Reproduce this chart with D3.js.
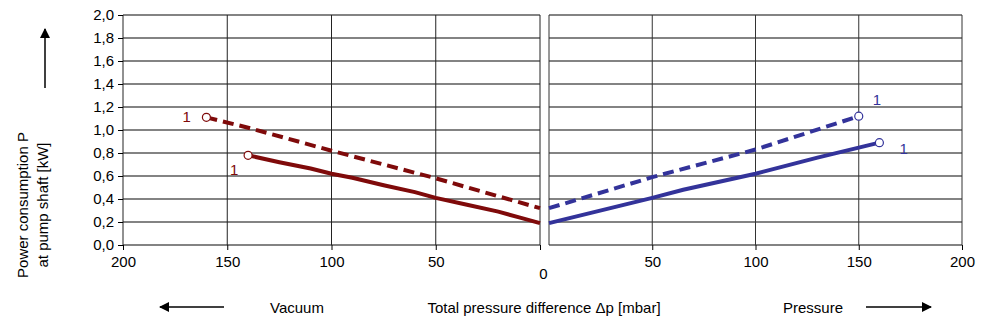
<!DOCTYPE html>
<html>
<head>
<meta charset="utf-8">
<script src="https://cdn.jsdelivr.net/npm/d3@7"></script>
<style>
  body { margin: 0; background: #fff; }
  text { font-family: "Liberation Sans", Arial, sans-serif; }
</style>
</head>
<body>
<div id="graph"></div>
<script>
// data (kW vs mbar)
const yTicks = [0, 0.2, 0.4, 0.6, 0.8, 1.0, 1.2, 1.4, 1.6, 1.8, 2.0];
const vacTicks = [200, 150, 100, 50];
const presTicks = [50, 100, 150, 200];

// vacuum side (dark red)
const vacSolid = [[140, 0.78], [125, 0.72], [110, 0.665], [100, 0.62], [90, 0.585], [75, 0.52], [60, 0.46], [50, 0.41], [35, 0.35], [20, 0.29], [10, 0.24], [0, 0.19]];
const vacDashed = [[160, 1.11], [140, 1.02], [100, 0.82], [50, 0.58], [0, 0.32]];
// pressure side (blue)
const presSolid = [[0, 0.19], [50, 0.41], [65, 0.48], [100, 0.62], [130, 0.76], [160, 0.89]];
const presDashed = [[0, 0.32], [50, 0.59], [100, 0.83], [150, 1.12]];

const red = "#7f0a0a", blue = "#33339a";

const svg = d3.select("#graph")
  .append("svg")
    .attr("width", 987)
    .attr("height", 330);

// scales
const xL = d3.scaleLinear().domain([200, 0]).range([123, 540]);
const xR = d3.scaleLinear().domain([0, 200]).range([549, 962]);
const y = d3.scaleLinear().domain([0, 2]).range([245, 15]);

const fmt = d => d.toFixed(1).replace(".", ",");

// horizontal grid lines, both panels
[xL, xR].forEach(x => {
  svg.append("g")
    .selectAll("line")
    .data(yTicks)
    .join("line")
      .attr("x1", x.range()[0])
      .attr("x2", x.range()[1])
      .attr("y1", d => y(d))
      .attr("y2", d => y(d))
      .style("stroke", "#5a5a5a")
      .style("stroke-width", 1.3);
});

// vertical grid lines
svg.append("g")
  .selectAll("line")
  .data([200, 150, 100, 50, 0])
  .join("line")
    .attr("x1", d => xL(d)).attr("x2", d => xL(d))
    .attr("y1", y(0)).attr("y2", y(2))
    .style("stroke", "#222");
svg.append("g")
  .selectAll("line")
  .data([0, 50, 100, 150, 200])
  .join("line")
    .attr("x1", d => xR(d)).attr("x2", d => xR(d))
    .attr("y1", y(0)).attr("y2", y(2))
    .style("stroke", "#333");

// y axis
const yAxis = svg.append("g")
  .attr("transform", `translate(${xL(200)},0)`)
  .call(d3.axisLeft(y).tickValues(yTicks).tickFormat(fmt).tickSize(5).tickPadding(4));
yAxis.select(".domain").remove();
yAxis.selectAll("text").style("font-size", "15px").style("font-family", "Liberation Sans, Arial, sans-serif").attr("fill", "#000");

// x axes
const axL = svg.append("g")
  .attr("transform", `translate(0,${y(0)})`)
  .call(d3.axisBottom(xL).tickValues([200, 150, 100, 50, 0]).tickFormat(d => d === 0 ? "" : d).tickSize(5).tickPadding(6));
const axR = svg.append("g")
  .attr("transform", `translate(0,${y(0)})`)
  .call(d3.axisBottom(xR).tickValues(presTicks).tickSize(5).tickPadding(6));
[axL, axR].forEach(a => {
  a.select(".domain").remove();
  a.selectAll("text").style("font-size", "15px").style("font-family", "Liberation Sans, Arial, sans-serif").attr("fill", "#000");
});
// shared zero label between the panels
svg.append("text")
  .attr("x", (xL(0) + xR(0)) / 2 - 1)
  .attr("y", 279)
  .attr("text-anchor", "middle")
  .style("font-size", "15px")
  .text("0");

// lines
function drawLine(data, x, color, dashed) {
  const line = d3.line().x(d => x(d[0])).y(d => y(d[1]));
  svg.append("path")
    .datum(data)
    .attr("d", line)
    .attr("fill", "none")
    .attr("stroke", color)
    .attr("stroke-width", 4)
    .attr("stroke-dasharray", dashed ? "11,6" : null);
}
drawLine(vacDashed, xL, red, true);
drawLine(vacSolid, xL, red, false);
drawLine(presDashed, xR, blue, true);
drawLine(presSolid, xR, blue, false);

// end markers and "1" labels
const ends = [
  {p: vacDashed[0], x: xL, c: red, dx: -24, dy: 5},
  {p: vacSolid[0], x: xL, c: red, dx: -18, dy: 20},
  {p: presDashed[presDashed.length - 1], x: xR, c: blue, dx: 14, dy: -11},
  {p: presSolid[presSolid.length - 1], x: xR, c: blue, dx: 20, dy: 11}
];
ends.forEach(e => {
  svg.append("circle")
    .attr("cx", e.x(e.p[0]))
    .attr("cy", y(e.p[1]))
    .attr("r", 4)
    .attr("fill", "#fff")
    .attr("stroke", e.c)
    .attr("stroke-width", 1.2);
  svg.append("text")
    .attr("x", e.x(e.p[0]) + e.dx)
    .attr("y", y(e.p[1]) + e.dy)
    .style("font-size", "15px")
    .attr("fill", e.c)
    .text("1");
});

// arrows
svg.append("defs").append("marker")
  .attr("id", "arrow")
  .attr("viewBox", "0 0 10 10")
  .attr("refX", 9).attr("refY", 5)
  .attr("markerWidth", 8).attr("markerHeight", 8)
  .attr("markerUnits", "userSpaceOnUse")
  .attr("orient", "auto")
  .append("path")
    .attr("d", "M0,0L10,5L0,10z")
    .attr("fill", "#000");
// wider arrowheads
svg.select("#arrow").attr("markerWidth", 16).attr("markerHeight", 10);

function arrow(x1, y1, x2, y2) {
  svg.append("line")
    .attr("x1", x1).attr("y1", y1).attr("x2", x2).attr("y2", y2)
    .attr("stroke", "#000")
    .attr("stroke-width", 1.5)
    .attr("marker-end", "url(#arrow)");
}
arrow(45, 88, 45, 29);
arrow(224, 307, 160, 307);
arrow(866, 307, 931, 307);

// axis titles
const yTitle = svg.append("g").attr("transform", "translate(0,205) rotate(-90)");
yTitle.append("text").attr("x", 0).attr("y", 28).attr("text-anchor", "middle").style("font-size", "15px").text("Power consumption P");
yTitle.append("text").attr("x", 0).attr("y", 48).attr("text-anchor", "middle").style("font-size", "15px").text("at pump shaft [kW]");

svg.append("text").attr("x", 297).attr("y", 313).attr("text-anchor", "middle").style("font-size", "15px").text("Vacuum");
svg.append("text").attr("x", 544).attr("y", 313).attr("text-anchor", "middle").style("font-size", "15px").text("Total pressure difference \u0394p [mbar]");
svg.append("text").attr("x", 813).attr("y", 313).attr("text-anchor", "middle").style("font-size", "15px").text("Pressure");
</script>
</body>
</html>
